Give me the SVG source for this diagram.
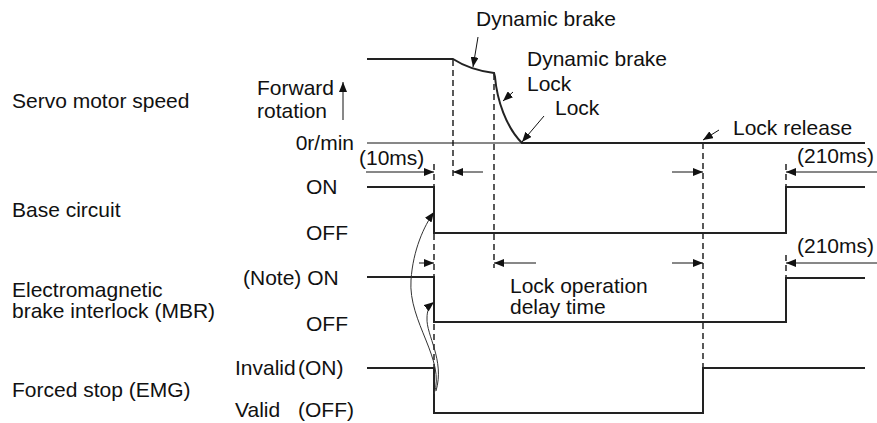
<svg xmlns="http://www.w3.org/2000/svg" width="877" height="423" viewBox="0 0 877 423">
<style>
text{font-family:"Liberation Sans",Arial,sans-serif;font-size:21px;fill:#111}
.sig{fill:none;stroke:#222;stroke-width:2}
.thin{fill:none;stroke:#111;stroke-width:1}
.dash{fill:none;stroke:#000;stroke-width:1.3;stroke-dasharray:6,4}
.curv{fill:none;stroke:#333;stroke-width:1}
</style>
<defs>
<marker id="ah" markerWidth="10" markerHeight="8" refX="10" refY="4" orient="auto" markerUnits="userSpaceOnUse">
<path d="M0,0 L10,4 L0,8 Z" fill="#111"/>
</marker>
</defs>
<g id="labels">
<text x="12" y="108">Servo motor speed</text>
<text x="12" y="217">Base circuit</text>
<text x="12" y="297">Electromagnetic</text>
<text x="12" y="318">brake interlock (MBR)</text>
<text x="12" y="397">Forced stop (EMG)</text>
<text x="257" y="95">Forward</text>
<text x="257" y="118">rotation</text>
<text x="354" y="150" text-anchor="end">0r/min</text>
<text x="306" y="194">ON</text>
<text x="306" y="240">OFF</text>
<text x="243" y="285">(Note) ON</text>
<text x="306" y="331">OFF</text>
<text x="235" y="375">Invalid</text>
<text x="298" y="375">(ON)</text>
<text x="235" y="417">Valid</text>
<text x="298" y="417">(OFF)</text>
<text x="359" y="165">(10ms)</text>
<text x="797" y="163">(210ms)</text>
<text x="797" y="253">(210ms)</text>
<text x="476" y="26">Dynamic brake</text>
<text x="527" y="66">Dynamic brake</text>
<text x="527" y="91">Lock</text>
<text x="555" y="115">Lock</text>
<text x="733" y="135">Lock release</text>
<text x="510" y="293">Lock operation</text>
<text x="510" y="314">delay time</text>
</g>
<g id="dashes">
<line class="dash" x1="453" y1="60" x2="453" y2="180"/>
<line class="dash" x1="494" y1="74" x2="494" y2="268"/>
<line class="dash" x1="434" y1="164" x2="434" y2="413"/>
<line class="dash" x1="703" y1="143" x2="703" y2="368"/>
<line class="dash" x1="786" y1="164" x2="786" y2="187"/>
<line class="dash" x1="786" y1="255" x2="786" y2="278"/>
</g>
<g id="speed">
<path class="sig" d="M367,59 L453,59 Q470,70 494,73 L495,77 C497,100 506,127 522,143 L865,143"/>
<line class="thin" x1="367" y1="143" x2="522" y2="143"/>
<line class="thin" x1="343" y1="120" x2="343" y2="82" marker-end="url(#ah)"/>
</g>
<g id="base-circuit">
<path class="sig" d="M367,187 L434,187 L434,233 L786,233 L786,187 L865,187"/>
</g>
<g id="mbr">
<path class="sig" d="M367,277 L434,277 L434,322 L786,322 L786,278 L865,278"/>
</g>
<g id="emg">
<path class="sig" d="M367,368 L434,368 L434,413 L703,413 L703,368 L865,368"/>
</g>
<g id="connectors">
<line class="thin" x1="478" y1="37" x2="473" y2="67" marker-end="url(#ah)"/>
<line class="thin" x1="513" y1="92" x2="503" y2="101" marker-end="url(#ah)"/>
<line class="thin" x1="544" y1="116" x2="522" y2="142" marker-end="url(#ah)"/>
<line class="thin" x1="719" y1="130" x2="703" y2="140" marker-end="url(#ah)"/>
<line class="thin" x1="366" y1="172" x2="434" y2="172" marker-end="url(#ah)"/>
<line class="thin" x1="483" y1="172" x2="453" y2="172" marker-end="url(#ah)"/>
<line class="thin" x1="419" y1="263" x2="434" y2="263" marker-end="url(#ah)"/>
<line class="thin" x1="536" y1="263" x2="494" y2="263" marker-end="url(#ah)"/>
<line class="thin" x1="672" y1="172" x2="703" y2="172" marker-end="url(#ah)"/>
<line class="thin" x1="877" y1="172" x2="786" y2="172" marker-end="url(#ah)"/>
<line class="thin" x1="672" y1="263" x2="703" y2="263" marker-end="url(#ah)"/>
<line class="thin" x1="877" y1="263" x2="786" y2="263" marker-end="url(#ah)"/>
<path class="curv" d="M434,394 C446,360 408,322 411,280 C413,250 424,226 434,212" marker-end="url(#ah)"/>
<path class="curv" d="M436,391 C445,360 426,335 427,318 C427,311 429,306 434,302" marker-end="url(#ah)"/>
</g>
</svg>
